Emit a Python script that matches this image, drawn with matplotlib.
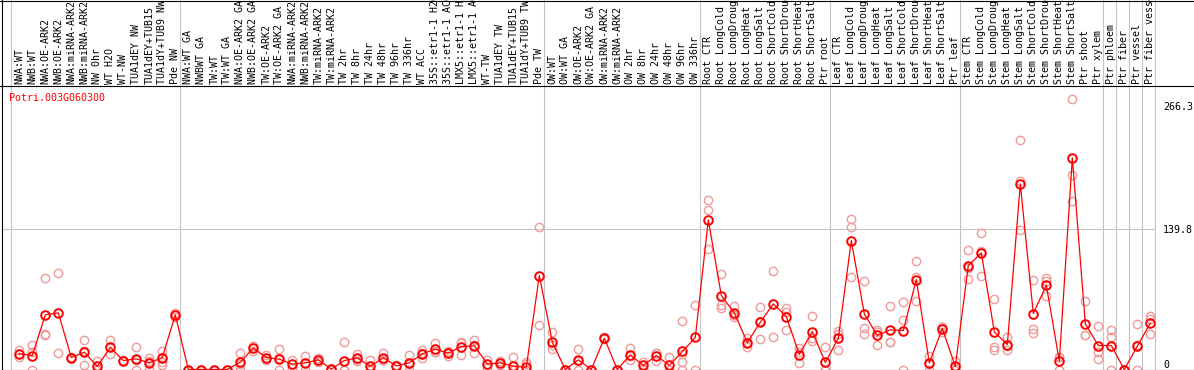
import numpy as np
import matplotlib
matplotlib.use('Agg')
import matplotlib.pyplot as plt
from matplotlib import transforms
from matplotlib.lines import Line2D

gene = 'Potri.003G060300'

samples = [
    'NWA:WT', 'NWB:WT', 'NWA:OE-ARK2', 'NWB:OE-ARK2', 'NWA:miRNA-ARK2', 'NWB:miRNA-ARK2',
    'NW 0hr', 'WT H2O', 'WT-NW', 'TUA1dEY NW', 'TUA1dEY+TUB15', 'TUA1dY+TUB9 NW', 'Pde NW',
    'NWA:WT GA', 'NWBWT GA', 'TW:WT', 'TW:WT GA', 'NWA:OE-ARK2 GA', 'NWB:OE-ARK2 GA',
    'TW:OE-ARK2', 'TW:OE-ARK2 GA', 'NWA:miRNA-ARK2', 'NWB:miRNA-ARK2', 'TW:miRNA-ARK2',
    'TW:miRNA-ARK2', 'TW 2hr', 'TW 8hr', 'TW 24hr', 'TW 48hr', 'TW 96hr', 'TW 336hr',
    'WT ACC', '35S::etr1-1 H2O', '35S::etr1-1 ACC', 'LMX5::etr1-1 H2O', 'LMX5::etr1-1 ACC',
    'WT-TW', 'TUA1dEY TW', 'TUA1dEY+TUB15', 'TUA1dY+TUB9 TW', 'Pde TW',
    'OW:WT', 'OW:WT GA', 'OW:OE-ARK2', 'OW:OE-ARK2 GA', 'OW:miRNA-ARK2', 'OW:miRNA-ARK2',
    'OW 2hr', 'OW 8hr', 'OW 24hr', 'OW 48hr', 'OW 96hr', 'OW 336hr',
    'Root CTR', 'Root LongCold', 'Root LongDrought', 'Root LongHeat', 'Root LongSalt',
    'Root ShortCold', 'Root ShortDrought', 'Root ShortHeat', 'Root ShortSalt', 'Ptr root',
    'Leaf CTR', 'Leaf LongCold', 'Leaf LongDrought', 'Leaf LongHeat', 'Leaf LongSalt',
    'Leaf ShortCold', 'Leaf ShortDrought', 'Leaf ShortHeat', 'Leaf ShortSalt', 'Ptr leaf',
    'Stem CTR', 'Stem LongCold', 'Stem LongDrought', 'Stem LongHeat', 'Stem LongSalt',
    'Stem ShortCold', 'Stem ShortDrought', 'Stem ShortHeat', 'Stem ShortSalt', 'Ptr shoot',
    'Ptr xylem', 'Ptr phloem', 'Ptr fiber', 'Ptr vessel', 'Ptr fiber vessel',
]

# samples per group (gray separators drawn after each group)
group_sizes = [13, 28, 12, 10, 10, 11, 1, 1, 1, 1]

means = [
    15.6, 13.9, 54.3, 56.3, 11.9, 17.2, 3.0, 22.2, 8.9, 10.6, 6.6, 11.9, 54.3,
    0, 0, 0, 0, 7.3, 21.2, 11.9, 10.3, 5.3, 6.6, 9.6, 0.3, 8.9, 11.6, 3.0, 11.6,
    3.6, 6.6, 15.6, 20.2, 16.2, 22.8, 23.5, 5.6, 6.6, 3.3, 2.3, 93.4,
    27.2, 0, 9.6, 0, 31.1, 0, 14.6, 4.0, 13.9, 4.0, 17.9, 31.8,
    148.7, 73.5, 56.3, 26.8, 47.0, 65.2, 52.6, 14.9, 37.7, 7.0,
    31.1, 128.1, 55.3, 33.8, 39.4, 38.7, 89.4, 6.6, 40.7, 3.0,
    103.3, 115.9, 37.4, 24.8, 184.4, 55.6, 83.8, 8.3, 210.3, 45.4,
    23.8, 23.8, 0, 23.2, 46.0,
]

replicates = [
    [19.5, 12.3, 15.0], [24.5, 0, 17.0], [91.0, 35.4, 33.8], [96.0, 16.6],
    [11.0, 12.8], [29.5, 4.0, 18.0], [8.9, 0, 0], [29.5, 15.6], [8.2, 9.6],
    [22.8, 0, 9.0], [11.6, 0, 8.2], [18.2, 12.3, 7.3, 4.0], [52.0, 56.6],
    [0, 0], [0, 0], [0, 0], [0, 0], [16.2, 0, 5.7], [23.8, 18.6],
    [14.9, 9.6, 11.2], [19.9, 0, 11.0], [9.6, 1.0], [13.6, 0, 6.2], [7.3, 11.9],
    [0, 0.6], [27.8, 0, 0], [15.6, 8.9, 10.3], [9.6, 0, 0], [16.2, 9.6, 9.0],
    [3.0, 4.2], [14.6, 0, 5.2], [18.9, 11.6, 16.3], [26.5, 17.2, 17.0],
    [18.2, 13.9, 16.5], [26.5, 14.2, 27.7], [29.8, 16.6, 24.1], [9.6, 1.6],
    [8.9, 4.3], [12.3, 0, 0], [7.0, 5.0, 0], [142.0, 44.7],
    [36.8, 20.2, 24.6], [0, 0], [20.2, 0, 8.6], [0, 0], [30.0, 32.2], [0, 0],
    [21.2, 9.6, 13.0], [7.3, 0.7], [16.2, 8.9, 16.6], [12.9, 0, 0],
    [48.0, 7.9, 0, 15.7], [63.6, 0],
    [168.9, 158.0, 119.9], [95.0, 61.3, 64.2], [62.9, 52.0, 54.0],
    [31.1, 22.2, 27.1], [61.9, 30.8, 48.3], [98.0, 32.5], [60.9, 39.7, 57.2],
    [20.9, 6.6, 17.2], [53.3, 28.8, 31.0], [22.8, 0, 0],
    [38.7, 19.5, 35.1], [150.0, 142.0, 92.4], [88.4, 41.4, 35.4],
    [39.4, 24.5, 37.5], [63.2, 27.2, 27.8], [67.5, 49.3, 0],
    [108.0, 91.7, 68.5], [13.9, 0, 5.9], [42.7, 37.1, 42.3], [8.9, 0, 0],
    [118.9, 90.0, 101.0], [135.8, 118.0, 93.4], [70.2, 22.2, 19.5],
    [31.8, 18.9, 23.7], [228.0, 187.7, 138.7], [89.0, 40.4, 36.4],
    [91.0, 72.8, 87.6], [12.3, 0, 12.6], [268.9, 193.7, 167.9],
    [68.5, 33.8, 33.9], [43.7, 17.2, 10.6], [39.7, 31.8, 0], [0, 0],
    [45.4, 0, 24.2], [53.6, 50.3, 34.8],
]

y_ticks = [0, 139.8, 266.3]

W, H = 1194, 370
mono = 'DejaVu Sans Mono'
red = '#ff0000'
pink = '#f09a9a'
grey = '#c4c4c4'

fig = plt.figure(figsize=(W / 100, H / 100), dpi=100)
ax = fig.add_axes([1.5 / W, 0.5 / H, 1153.5 / W, 284 / H])
ax.set_xlim(-1.37, 87.36)
ax.set_ylim(0, 282.2)

x = np.arange(len(samples))

# group separators, running up through the label area
ends = np.cumsum([0] + group_sizes) - 1 + 0.385
trans_x = transforms.blended_transform_factory(ax.transData, ax.transAxes)
for e in ends:
    ax.plot([e, e], [0, 1.31], transform=trans_x, color=grey, lw=0.8,
            clip_on=False, zorder=0)
ax.axhline(y_ticks[1], color=grey, lw=0.8, zorder=0)

for i, r in enumerate(replicates):
    ax.plot([i] * len(r), r, 'o', mfc='none', mec=pink, ms=6, mew=1.0,
            clip_on=False, zorder=2)
ax.plot(x, means, '-', color=red, lw=0.9, zorder=3, clip_on=False)
ax.plot(x, means, 'o', mfc='none', mec=red, ms=6.2, mew=1.4, zorder=4,
        clip_on=False)

# sample names on top
for i, s in enumerate(samples):
    ax.text(i, 1.006, s, transform=trans_x, rotation=90, ha='center', va='bottom',
            family=mono, fontsize=7.2, color='black')

ax.text(0.0068, 0.975, gene, transform=ax.transAxes, ha='left', va='top',
        family=mono, fontsize=7.2, color=red)

ax.set_xticks([])
ax.yaxis.tick_right()
ax.set_yticks(y_ticks)
ax.set_yticklabels([f'{v:g}' for v in y_ticks], family=mono, fontsize=7.2)
ax.tick_params(axis='y', length=0, pad=5.8)
labs = ax.get_yticklabels()
labs[0].set_va('bottom')
labs[2].set_va('top')

for side in ['right', 'top', 'bottom']:
    ax.spines[side].set_visible(False)
ax.spines['left'].set_visible(False)

# frame lines across the whole picture
fig.add_artist(Line2D([0, 1], [1 - 0.5 / H, 1 - 0.5 / H], color='black', lw=0.8))
fig.add_artist(Line2D([0, 1], [1 - 85.5 / H, 1 - 85.5 / H], color='black', lw=0.8))
fig.add_artist(Line2D([0, 1], [0.5 / H, 0.5 / H], color='black', lw=0.8))
fig.add_artist(Line2D([1.5 / W, 1.5 / W], [0, 1], color='black', lw=0.8))

fig.savefig('out.png', dpi=100)
plt.close(fig)
